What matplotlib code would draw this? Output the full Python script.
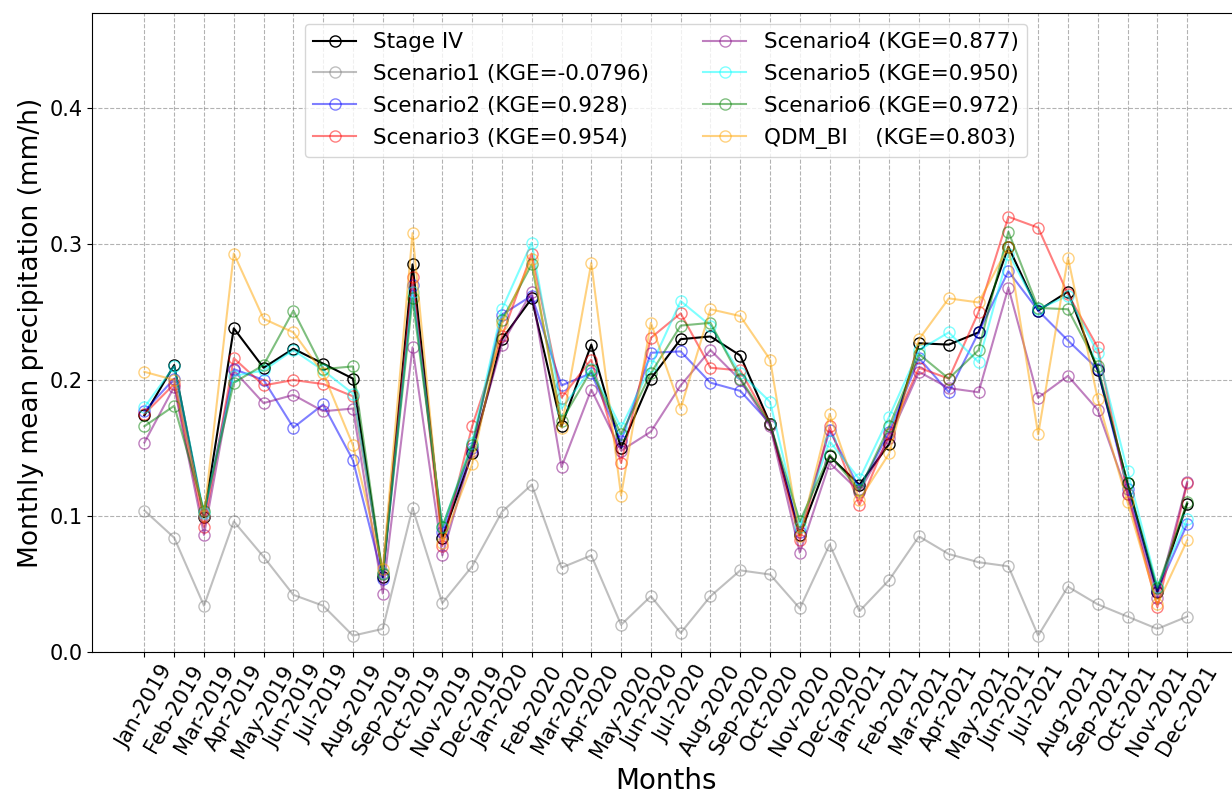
import matplotlib.pyplot as plt

months = ['Jan-2019', 'Feb-2019', 'Mar-2019', 'Apr-2019', 'May-2019', 'Jun-2019',
          'Jul-2019', 'Aug-2019', 'Sep-2019', 'Oct-2019', 'Nov-2019', 'Dec-2019',
          'Jan-2020', 'Feb-2020', 'Mar-2020', 'Apr-2020', 'May-2020', 'Jun-2020',
          'Jul-2020', 'Aug-2020', 'Sep-2020', 'Oct-2020', 'Nov-2020', 'Dec-2020',
          'Jan-2021', 'Feb-2021', 'Mar-2021', 'Apr-2021', 'May-2021', 'Jun-2021',
          'Jul-2021', 'Aug-2021', 'Sep-2021', 'Oct-2021', 'Nov-2021', 'Dec-2021']

stage_iv = [0.174, 0.211, 0.099, 0.238, 0.209, 0.223, 0.212, 0.201, 0.055, 0.285, 0.084, 0.146,
            0.230, 0.260, 0.166, 0.226, 0.150, 0.201, 0.230, 0.232, 0.218, 0.168, 0.086, 0.144,
            0.123, 0.153, 0.227, 0.226, 0.235, 0.298, 0.251, 0.265, 0.207, 0.124, 0.044, 0.109]
scenario1 = [0.104, 0.084, 0.034, 0.096, 0.070, 0.042, 0.034, 0.012, 0.017, 0.106, 0.036, 0.063,
             0.103, 0.123, 0.062, 0.071, 0.020, 0.041, 0.014, 0.041, 0.060, 0.057, 0.032, 0.079,
             0.030, 0.053, 0.085, 0.072, 0.066, 0.063, 0.012, 0.048, 0.035, 0.026, 0.017, 0.026]
scenario2 = [0.177, 0.201, 0.100, 0.208, 0.200, 0.165, 0.182, 0.141, 0.054, 0.270, 0.088, 0.150,
             0.248, 0.262, 0.196, 0.205, 0.155, 0.220, 0.221, 0.198, 0.192, 0.168, 0.088, 0.163,
             0.120, 0.162, 0.216, 0.191, 0.235, 0.280, 0.251, 0.229, 0.208, 0.120, 0.045, 0.094]
scenario3 = [0.175, 0.197, 0.092, 0.216, 0.196, 0.200, 0.197, 0.188, 0.058, 0.276, 0.078, 0.166,
             0.232, 0.293, 0.187, 0.215, 0.139, 0.231, 0.249, 0.209, 0.207, 0.168, 0.082, 0.166,
             0.108, 0.160, 0.209, 0.201, 0.250, 0.320, 0.312, 0.263, 0.224, 0.116, 0.033, 0.124]
scenario4 = [0.154, 0.195, 0.086, 0.207, 0.183, 0.189, 0.177, 0.179, 0.043, 0.224, 0.071, 0.148,
             0.226, 0.265, 0.136, 0.193, 0.148, 0.162, 0.196, 0.222, 0.200, 0.166, 0.073, 0.139,
             0.118, 0.157, 0.206, 0.194, 0.191, 0.268, 0.187, 0.203, 0.178, 0.116, 0.040, 0.125]
scenario5 = [0.180, 0.210, 0.102, 0.203, 0.207, 0.222, 0.207, 0.190, 0.058, 0.265, 0.092, 0.154,
             0.252, 0.301, 0.179, 0.208, 0.165, 0.210, 0.258, 0.240, 0.205, 0.184, 0.092, 0.155,
             0.127, 0.173, 0.222, 0.235, 0.213, 0.293, 0.252, 0.262, 0.220, 0.133, 0.048, 0.098]
scenario6 = [0.166, 0.181, 0.104, 0.198, 0.211, 0.251, 0.208, 0.210, 0.057, 0.260, 0.092, 0.152,
             0.244, 0.285, 0.170, 0.207, 0.160, 0.205, 0.240, 0.242, 0.201, 0.168, 0.096, 0.145,
             0.119, 0.166, 0.219, 0.201, 0.222, 0.309, 0.253, 0.252, 0.210, 0.124, 0.047, 0.110]
qdm_bi = [0.206, 0.200, 0.100, 0.293, 0.245, 0.235, 0.205, 0.152, 0.061, 0.308, 0.080, 0.138,
          0.241, 0.289, 0.165, 0.286, 0.115, 0.242, 0.179, 0.252, 0.247, 0.215, 0.085, 0.175,
          0.112, 0.146, 0.230, 0.260, 0.257, 0.298, 0.160, 0.290, 0.186, 0.110, 0.035, 0.082]

series = [
    (stage_iv, 'Stage IV', 'black', 1.0),
    (scenario1, 'Scenario1 (KGE=-0.0796)', 'grey', 0.5),
    (scenario2, 'Scenario2 (KGE=0.928)', 'blue', 0.5),
    (scenario3, 'Scenario3 (KGE=0.954)', 'red', 0.5),
    (scenario4, 'Scenario4 (KGE=0.877)', 'purple', 0.5),
    (scenario5, 'Scenario5 (KGE=0.950)', 'cyan', 0.5),
    (scenario6, 'Scenario6 (KGE=0.972)', 'green', 0.5),
    (qdm_bi, 'QDM_BI    (KGE=0.803)', 'orange', 0.5),
]

fig = plt.figure(figsize=(12.32, 7.99), dpi=100)
ax = fig.add_axes([0.0749, 0.184, 0.931, 0.80])

x = range(len(months))
for values, label, color, alpha in series:
    ax.plot(x, values, marker='o', markerfacecolor='none', markersize=8,
            color=color, alpha=alpha, linewidth=1.5, label=label)

ax.set_xticks(list(x))
ax.set_xticklabels(months, rotation=60, fontsize=15)
ax.tick_params(axis='y', labelsize=15)
ax.set_yticks([0.0, 0.1, 0.2, 0.3, 0.4])
ax.set_xlim(-1.75, 36.75)
ax.set_ylim(0, 0.47)
ax.grid(True, linestyle='--', color='grey', alpha=0.6)
ax.set_xlabel('Months', fontsize=20)
ax.set_ylabel('Monthly mean precipitation (mm/h)', fontsize=19)
ax.legend(loc='upper center', ncol=2, fontsize=15.5, labelspacing=0.55, columnspacing=2.5)

fig.savefig('out.png', dpi=100)
